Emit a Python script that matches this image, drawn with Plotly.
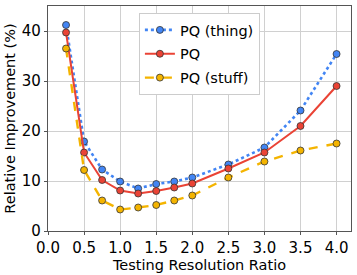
import plotly.graph_objects as go

ratios = [0.25, 0.5, 0.75, 1.0, 1.25, 1.5, 1.75, 2.0, 2.5, 3.0, 3.5, 4.0]
pq_thing = [41.2, 17.9, 12.3, 9.9, 8.5, 9.4, 9.9, 10.7, 13.3, 16.7, 24.1, 35.4]
pq_all = [39.7, 15.7, 10.2, 8.1, 7.5, 8.0, 8.7, 9.5, 12.5, 15.7, 21.0, 29.0]
pq_stuff = [36.5, 12.2, 6.1, 4.3, 4.7, 5.2, 6.1, 7.1, 10.7, 13.9, 16.1, 17.5]
x_ticks = [0.0, 0.5, 1.0, 1.5, 2.0, 2.5, 3.0, 3.5, 4.0]
y_ticks = [0, 10, 20, 30, 40]

FONT = "DejaVu Sans"
fig = go.Figure()
series = [
    ("PQ (thing)", pq_thing, "#4285F4", "dot", 2.6),
    ("PQ", pq_all, "#EA4335", "solid", 2.0),
    ("PQ (stuff)", pq_stuff, "#F4B400", "dash", 2.4),
]
for name, vals, color, dash, w in series:
    fig.add_trace(go.Scatter(
        x=ratios, y=vals, name=name, mode="lines+markers", legendgroup=name,
        line=dict(color=color, dash=dash, width=w),
        marker=dict(size=7, color=color, line=dict(color="#333333", width=0.8)),
    ))

fig.update_layout(
    width=357, height=275,
    margin=dict(l=48, r=6, t=6, b=44, autoexpand=False),
    paper_bgcolor="white", plot_bgcolor="white",
    font=dict(family=FONT, size=14.5, color="black"),
    showlegend=True,
    legend=dict(x=0.30, y=0.969, xanchor="left", yanchor="top",
                bgcolor="white", bordercolor="#cccccc", borderwidth=1,
                font=dict(size=14.5), itemwidth=30, tracegroupgap=2),
)
fig.update_xaxes(
    range=[0, 4.2], tickvals=x_ticks, ticktext=[f"{v:.1f}" for v in x_ticks],
    tickfont=dict(size=15),
    showgrid=True, gridcolor="#d0d0d0", gridwidth=1,
    showline=True, linecolor="#555555", linewidth=1.3, mirror=True,
    ticks="outside", ticklen=3, tickcolor="#555555",
    zeroline=False, automargin=False,
    title=dict(text="Testing Resolution Ratio", font=dict(size=14.5), standoff=0),
)
fig.update_yaxes(
    range=[0, 45], tickvals=y_ticks,
    tickfont=dict(size=15),
    showgrid=True, gridcolor="#d0d0d0", gridwidth=1,
    showline=True, linecolor="#555555", linewidth=1.3, mirror=True,
    ticks="outside", ticklen=3, tickcolor="#555555",
    zeroline=False, automargin=False,
    title=dict(text="Relative Improvement (%)", font=dict(size=14.5), standoff=2),
)
fig.write_html("out.html", config={"displayModeBar": False},
               post_script="document.body.style.margin='0';")
